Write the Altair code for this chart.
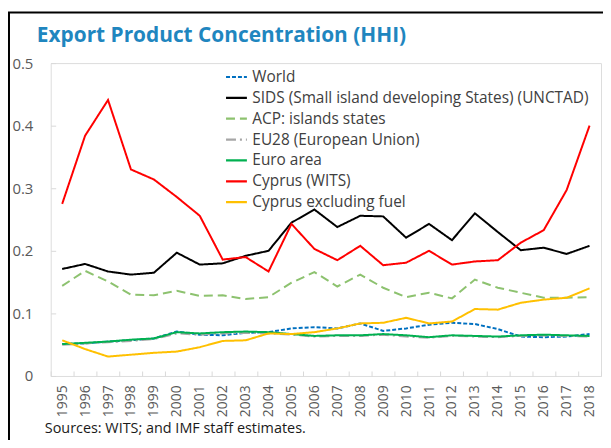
import altair as alt
import pandas as pd

years = list(range(1995, 2019))

series_names = [
    "World",
    "SIDS (Small island developing States) (UNCTAD)",
    "ACP: islands states",
    "EU28 (European Union)",
    "Euro area",
    "\u00a0Cyprus (WITS)",
    "Cyprus excluding fuel",
]
series_colors = ["#0070C0", "#000000", "#8DC26F", "#A6A6A6", "#00B050", "#FF0000", "#FFC000"]
series_dashes = [[4, 2], [1, 0], [9, 5], [10, 4, 2, 4], [1, 0], [1, 0], [1, 0]]

world = [0.051, 0.052, 0.055, 0.057, 0.060, 0.071, 0.066, 0.065, 0.069, 0.070, 0.076, 0.078,
         0.076, 0.084, 0.072, 0.076, 0.082, 0.085, 0.083, 0.075, 0.063, 0.062, 0.063, 0.067]
sids = [0.171, 0.179, 0.167, 0.162, 0.165, 0.197, 0.178, 0.180, 0.192, 0.200, 0.245, 0.266,
        0.238, 0.256, 0.255, 0.221, 0.243, 0.217, 0.260, 0.230, 0.201, 0.205, 0.195, 0.208]
acp = [0.144, 0.168, 0.151, 0.130, 0.129, 0.136, 0.128, 0.129, 0.123, 0.126, 0.149, 0.166,
       0.143, 0.162, 0.141, 0.126, 0.133, 0.124, 0.154, 0.141, 0.133, 0.125, 0.125, 0.126]
eu28 = [0.050, 0.052, 0.054, 0.056, 0.059, 0.068, 0.066, 0.068, 0.069, 0.068, 0.066, 0.063,
        0.064, 0.064, 0.066, 0.063, 0.061, 0.064, 0.063, 0.062, 0.064, 0.065, 0.064, 0.063]
euro = [0.051, 0.053, 0.055, 0.058, 0.060, 0.070, 0.068, 0.070, 0.071, 0.070, 0.067, 0.064,
        0.065, 0.065, 0.067, 0.065, 0.062, 0.065, 0.064, 0.063, 0.065, 0.066, 0.065, 0.064]
cyprus = [0.275, 0.384, 0.441, 0.330, 0.314, 0.286, 0.256, 0.186, 0.190, 0.167, 0.243, 0.203,
          0.185, 0.208, 0.177, 0.181, 0.200, 0.178, 0.183, 0.185, 0.213, 0.233, 0.297, 0.400]
cyprus_ex_fuel = [0.057, 0.043, 0.031, 0.034, 0.037, 0.039, 0.046, 0.056, 0.057, 0.068, 0.067, 0.070,
                  0.076, 0.084, 0.085, 0.093, 0.084, 0.087, 0.107, 0.106, 0.117, 0.122, 0.125, 0.140]

title_text = "Export Product Concentration (HHI)"
source_text = "Sources: WITS; and IMF staff estimates."

all_values = [world, sids, acp, eu28, euro, cyprus, cyprus_ex_fuel]
rows = []
for name, vals in zip(series_names, all_values):
    for y, v in zip(years, vals):
        rows.append({"year": str(y), "series": name, "value": v})
df = pd.DataFrame(rows)

FONT = "Open Sans"

legend_kw = dict(title=None, orient="none", legendX=175, legendY=2,
                 symbolType="stroke", symbolStrokeWidth=2.2, symbolSize=441,
                 labelFontSize=15.5, labelColor="#404040", labelFont=FONT,
                 rowPadding=0, labelOffset=4, labelLimit=400)

lines = alt.Chart(df).mark_line(strokeWidth=2).encode(
    x=alt.X("year:N", title=None,
            axis=alt.Axis(labelAngle=-90, labelFontSize=14, labelColor="#595959", labelFont=FONT,
                          domain=False, ticks=True, tickSize=5, tickColor="#D9D9D9", tickBand="extent",
                          offset=-5, labelPadding=9, grid=False)),
    y=alt.Y("value:Q", title=None,
            scale=alt.Scale(domain=[0, 0.5], nice=False),
            axis=alt.Axis(values=[0, 0.1, 0.2, 0.3, 0.4, 0.5], format=".1~f", labelFontSize=15,
                          labelColor="#595959", labelFont=FONT, domain=False, tickSize=5,
                          tickColor="#D9D9D9", offset=-5, labelPadding=18, grid=False)),
    color=alt.Color("series:N", scale=alt.Scale(domain=series_names, range=series_colors),
                    legend=alt.Legend(**legend_kw)),
    strokeDash=alt.StrokeDash("series:N", scale=alt.Scale(domain=series_names, range=series_dashes),
                              legend=alt.Legend(**legend_kw)),
    order=alt.Order("series:N"),
)

one = pd.DataFrame({"k": [0]})

title_mark = alt.Chart(one).mark_text(
    align="left", baseline="middle", fontSize=21, fontWeight="bold", font=FONT, color="#1F86BF"
).encode(x=alt.value(-14), y=alt.value(-27), text=alt.value(title_text))

source_mark = alt.Chart(one).mark_text(
    align="left", baseline="middle", fontSize=14.5, font=FONT, color="#1A1A1A"
).encode(x=alt.value(-6), y=alt.value(368), text=alt.value(source_text))

frame_left = alt.Chart(one).mark_rule(color="#000000", strokeWidth=2).encode(
    x=alt.value(-42), y=alt.value(-51), y2=alt.value(380))
frame_top = alt.Chart(one).mark_rule(color="#000000", strokeWidth=2).encode(
    x=alt.value(-43), x2=alt.value(560), y=alt.value(-51))

chart = alt.layer(lines, title_mark, source_mark, frame_left, frame_top).properties(
    width=554, height=315,
    autosize=alt.AutoSizeParams(type="none"),
    padding={"left": 43, "top": 54, "right": 2, "bottom": 63},
).configure_view(stroke="#D9D9D9", strokeWidth=1).configure(background="white")

chart.save("out.html", embed_options={"renderer": "svg", "actions": False})
